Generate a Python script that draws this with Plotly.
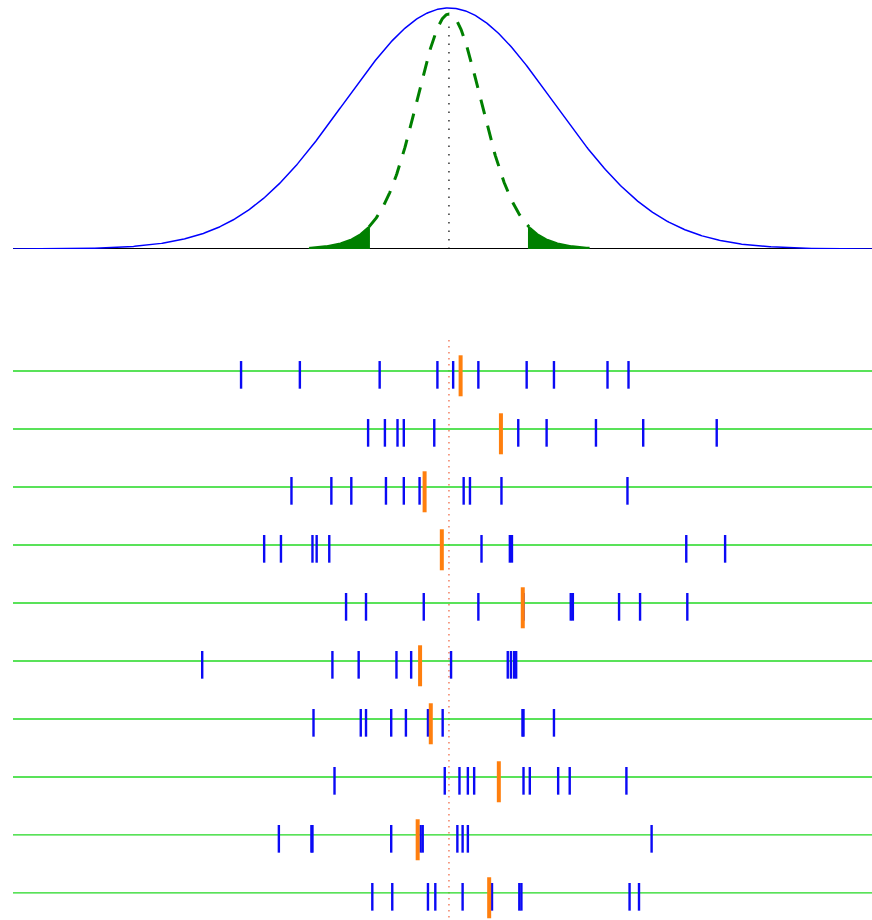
import numpy as np
import plotly.graph_objects as go

# ---- data (population in sigma units, mean 0, sd 1; samples of n = 10) ----
samples = [
    [-1.98, -1.42, -0.66, -0.11, 0.04, 0.28, 0.74, 1.00, 1.51, 1.71],
    [-0.77, -0.61, -0.49, -0.43, -0.14, 0.66, 0.93, 1.40, 1.85, 2.55],
    [-1.50, -1.12, -0.93, -0.60, -0.43, -0.28, 0.14, 0.20, 0.50, 1.70],
    [-1.76, -1.60, -1.30, -1.26, -1.14, 0.31, 0.58, 0.60, 2.26, 2.63],
    [-0.98, -0.79, -0.24, 0.28, 0.71, 1.16, 1.18, 1.62, 1.82, 2.27],
    [-2.35, -1.11, -0.86, -0.50, -0.36, 0.02, 0.56, 0.59, 0.62, 0.64],
    [-1.29, -0.84, -0.79, -0.55, -0.41, -0.20, -0.06, 0.70, 0.71, 1.00],
    [-1.09, -0.04, 0.10, 0.18, 0.24, 0.71, 0.77, 1.04, 1.15, 1.69],
    [-1.62, -1.30, -1.31, -0.55, -0.27, -0.25, 0.08, 0.13, 0.18, 1.93],
    [-0.73, -0.54, -0.20, -0.13, 0.13, 0.41, 0.67, 0.69, 1.72, 1.81],
]
pop_mean = 0.0
pop_sd = 1.0
n_per_sample = 10
mean_scale = 0.327    # scale of the t-shaped sampling curve
tail_cut = 0.762      # rejection boundary for the sample mean
tail_end = 1.33
mean_curve_peak = 0.389

X_MIN, X_MAX = -4.152, 4.029

fig = go.Figure()

# ---- top panel ----
xs = np.linspace(X_MIN, X_MAX, 800)
pdf = np.exp(-0.5 * ((xs - pop_mean) / pop_sd) ** 2) / (pop_sd * np.sqrt(2 * np.pi))
dfree = n_per_sample - 1

def mean_curve(x):
    z = (x - pop_mean) / mean_scale
    return mean_curve_peak * (1 + z ** 2 / dfree) ** (-(dfree + 1) / 2)

# baseline
fig.add_trace(go.Scatter(x=[X_MIN, X_MAX], y=[0, 0], mode="lines",
                         line=dict(color="black", width=2), xaxis="x", yaxis="y",
                         hoverinfo="skip"))
# tails (filled)
for a, b in [(-tail_end, -tail_cut), (tail_cut, tail_end)]:
    tx = np.linspace(a, b, 80)
    ty = mean_curve(tx)
    px = np.concatenate([[a], tx, [b]])
    py = np.concatenate([[0], ty, [0]])
    fig.add_trace(go.Scatter(x=px, y=py, mode="lines", fill="toself",
                             fillcolor="#008000", line=dict(color="#008000", width=2),
                             xaxis="x", yaxis="y", hoverinfo="skip"))
# dashed sampling distribution
dx = np.linspace(-tail_cut, tail_cut, 300)
fig.add_trace(go.Scatter(x=dx, y=mean_curve(dx), mode="lines",
                         line=dict(color="#008000", width=3, dash="15px,12px"),
                         xaxis="x", yaxis="y", hoverinfo="skip"))
# population curve
fig.add_trace(go.Scatter(x=xs, y=pdf, mode="lines",
                         line=dict(color="#0000ff", width=1.5),
                         xaxis="x", yaxis="y", hoverinfo="skip"))
# dotted center line
fig.add_trace(go.Scatter(x=[pop_mean, pop_mean], y=[0, mean_curve_peak - 0.01], mode="lines",
                         line=dict(color="black", width=1.2, dash="1.5px,7px"),
                         xaxis="x", yaxis="y", hoverinfo="skip"))

# ---- bottom panel ----
fig.add_trace(go.Scatter(x=[pop_mean, pop_mean], y=[-0.534, 9.47], mode="lines",
                         line=dict(color="#f0603a", width=1.2, dash="1.5px,4.5px"),
                         xaxis="x", yaxis="y2", hoverinfo="skip"))
for k, row in enumerate(samples):
    fig.add_trace(go.Scatter(x=[X_MIN, X_MAX], y=[k, k], mode="lines",
                             line=dict(color="#22d822", width=1.3),
                             xaxis="x", yaxis="y2", hoverinfo="skip"))
    bx, by = [], []
    for v in row:
        bx += [v, v, None]
        by += [k - 0.172, k + 0.305, None]
    fig.add_trace(go.Scatter(x=bx, y=by, mode="lines",
                             line=dict(color="#0a0af5", width=2.4),
                             xaxis="x", yaxis="y2", hoverinfo="skip"))
    m = float(np.mean(row))
    fig.add_trace(go.Scatter(x=[m, m], y=[k - 0.271, k + 0.436], mode="lines",
                             line=dict(color="#ff7f0e", width=4),
                             xaxis="x", yaxis="y2", hoverinfo="skip"))

fig.update_layout(
    width=872, height=920,
    margin=dict(l=13, r=0, t=0, b=0),
    paper_bgcolor="white", plot_bgcolor="white",
    showlegend=False,
    xaxis=dict(range=[X_MIN, X_MAX], visible=False, showgrid=False, zeroline=False),
    yaxis=dict(domain=[0.7293, 1.0], range=[0, 0.4121], visible=False,
               showgrid=False, zeroline=False, anchor="x"),
    yaxis2=dict(domain=[0.0, 0.7293], range=[9.466, -2.103], visible=False,
                showgrid=False, zeroline=False, anchor="x"),
)

fig.write_html("out.html",
               config={"displayModeBar": False},
               post_script="document.body.style.margin='0';document.body.style.overflow='hidden';")
